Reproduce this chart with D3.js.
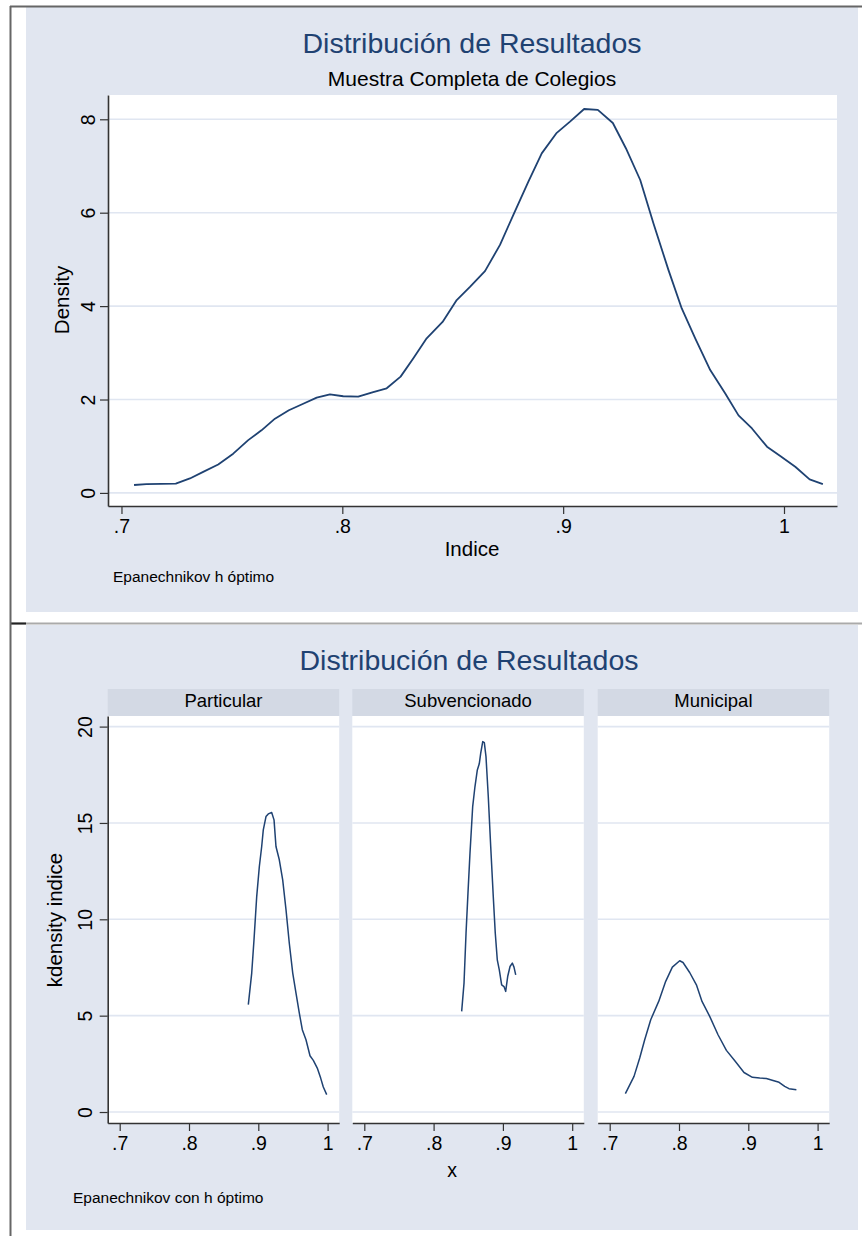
<!DOCTYPE html>
<html>
<head>
<meta charset="utf-8">
<script src="https://cdn.jsdelivr.net/npm/d3@7"></script>
<style>
  body { margin: 0; background: #fff; }
  svg { display: block; font-family: "Liberation Sans", Arial, Helvetica, sans-serif; }
</style>
</head>
<body>
<div id="chart"></div>
<script>
// kernel density, full sample
const topX = [0.7057, 0.7113, 0.7246, 0.731, 0.737, 0.7438, 0.7506, 0.7574, 0.7634, 0.7695, 0.7758, 0.7823, 0.7884, 0.7944, 0.8004, 0.8072, 0.814, 0.8201, 0.8264, 0.8321, 0.8382, 0.8454, 0.8518, 0.8578, 0.8646, 0.8714, 0.8774, 0.8842, 0.8903, 0.8971, 0.9031, 0.9095, 0.9157, 0.9225, 0.9284, 0.9349, 0.9409, 0.9477, 0.9537, 0.9598, 0.9666, 0.9734, 0.9794, 0.9855, 0.9923, 0.9983, 1.0051, 1.0116, 1.0176];
const topY = [0.17, 0.19, 0.20, 0.31, 0.45, 0.61, 0.84, 1.13, 1.34, 1.59, 1.77, 1.91, 2.04, 2.11, 2.07, 2.06, 2.16, 2.24, 2.49, 2.88, 3.31, 3.66, 4.13, 4.41, 4.75, 5.31, 5.95, 6.66, 7.27, 7.71, 7.95, 8.22, 8.20, 7.92, 7.38, 6.70, 5.77, 4.77, 3.95, 3.31, 2.63, 2.13, 1.66, 1.38, 0.99, 0.79, 0.56, 0.29, 0.19];

// by school type
const panelNames = ["Particular", "Subvencionado", "Municipal"];
const particularX = [0.8856, 0.8905, 0.8938, 0.8977, 0.9015, 0.9049, 0.9072, 0.9111, 0.9144, 0.9193, 0.9227, 0.9255, 0.9303, 0.9352, 0.94, 0.9447, 0.9497, 0.9544, 0.9592, 0.9635, 0.9688, 0.9746, 0.9794, 0.9851, 0.99, 0.9938, 0.9987];
const particularY = [5.57, 7.21, 8.94, 11.18, 12.74, 13.78, 14.64, 15.33, 15.47, 15.54, 15.16, 13.78, 13.09, 12.05, 10.49, 8.77, 7.21, 6.17, 5.13, 4.27, 3.75, 2.92, 2.68, 2.28, 1.76, 1.30, 0.90];
const subvX = [0.8405, 0.8439, 0.8468, 0.8496, 0.8525, 0.8564, 0.8597, 0.8631, 0.8659, 0.868, 0.8709, 0.8732, 0.8756, 0.8789, 0.8824, 0.8861, 0.889, 0.8919, 0.8948, 0.8982, 0.9016, 0.904, 0.9069, 0.9103, 0.9136, 0.916, 0.9185];
const subvY = [5.22, 6.69, 9.28, 11.36, 13.43, 15.85, 16.89, 17.75, 18.07, 18.62, 19.22, 19.17, 18.44, 16.37, 13.78, 11.18, 9.28, 7.90, 7.38, 6.60, 6.51, 6.26, 7.03, 7.55, 7.73, 7.52, 7.12];
const municipalX = [0.7226, 0.7351, 0.7433, 0.7505, 0.7592, 0.7707, 0.7808, 0.7904, 0.801, 0.8058, 0.8154, 0.8251, 0.8332, 0.8443, 0.8563, 0.8684, 0.8814, 0.8938, 0.9059, 0.9165, 0.9261, 0.9357, 0.9444, 0.9525, 0.9587, 0.9694];
const municipalY = [0.95, 1.85, 2.80, 3.75, 4.79, 5.74, 6.78, 7.52, 7.85, 7.76, 7.24, 6.60, 5.74, 4.96, 4.01, 3.20, 2.62, 2.05, 1.80, 1.76, 1.74, 1.64, 1.54, 1.33, 1.21, 1.16];

// ticks
const xTicks = [0.7, 0.8, 0.9, 1];
const topYTicks = [0, 2, 4, 6, 8];
const bottomYTicks = [0, 5, 10, 15, 20];

const navy = "#1f4272";
const bg = "#e1e6f0";
const stripBg = "#d3d9e4";
const gridColor = "#e0e6f1";
const axisColor = "#333";
const stataFmt = d => d === 1 ? "1" : String(d).replace(/^0/, "");

const svg = d3.select("#chart")
  .append("svg")
    .attr("width", 862)
    .attr("height", 1236)

// frame lines around the two graphs
svg.append("rect").attr("x", 26).attr("y", 7).attr("width", 832).attr("height", 605).attr("fill", bg)
svg.append("rect").attr("x", 26).attr("y", 625).attr("width", 832).attr("height", 605).attr("fill", bg)
svg.append("line").attr("x1", 10).attr("x2", 862).attr("y1", 6.5).attr("y2", 6.5).attr("stroke", "#666").attr("stroke-width", 2)
svg.append("line").attr("x1", 10).attr("x2", 862).attr("y1", 623.5).attr("y2", 623.5).attr("stroke", "#aaa").attr("stroke-width", 2)
svg.append("line").attr("x1", 10).attr("x2", 26).attr("y1", 623.5).attr("y2", 623.5).attr("stroke", "#222").attr("stroke-width", 2)
svg.append("line").attr("x1", 10.5).attr("x2", 10.5).attr("y1", 6).attr("y2", 1236).attr("stroke", "#666").attr("stroke-width", 2)

function drawPanel(g, x, y, yTicks, showY, labelShift, lineWidth, xs, ys) {
  const [x0, x1] = x.range();
  const [yb, yt] = y.range();
  g.append("rect").attr("x", x0).attr("y", yt).attr("width", x1 - x0).attr("height", yb - yt).attr("fill", "#fff")

  // grid
  g.selectAll(".grid").data(yTicks).enter()
    .append("line")
      .attr("x1", x0).attr("x2", x1)
      .attr("y1", d => y(d)).attr("y2", d => y(d))
      .attr("stroke", gridColor).attr("stroke-width", 1.6)

  // x axis
  const xa = g.append("g")
    .attr("transform", `translate(0,${yb})`)
    .call(d3.axisBottom(x).tickValues(xTicks).tickFormat(stataFmt).tickSize(8).tickPadding(5).tickSizeOuter(0))
  xa.select(".domain").attr("stroke", axisColor).attr("stroke-width", 1.6)
  xa.selectAll(".tick line").attr("stroke", axisColor).attr("stroke-width", 1.2)
  xa.selectAll("text").attr("font-size", 19.5).attr("fill", "#000").attr("font-family", null)

  if (showY) {
    const ya = g.append("g")
      .attr("transform", `translate(${x0},0)`)
      .call(d3.axisLeft(y).tickValues(yTicks).tickSize(8).tickSizeOuter(0))
    ya.select(".domain").attr("stroke", axisColor).attr("stroke-width", 1.6)
    ya.selectAll(".tick line").attr("stroke", axisColor).attr("stroke-width", 1.2)
    ya.selectAll("text")
      .attr("font-size", 19.5).attr("fill", "#000").attr("font-family", null)
      .attr("x", null).attr("dy", null)
      .attr("text-anchor", "middle")
      .attr("transform", `translate(${-labelShift},0) rotate(-90)`)
  }

  const line = d3.line()
    .x(d => x(d[0]))
    .y(d => y(d[1]))
  g.append("path")
    .datum(xs.map((v, i) => [v, ys[i]]))
    .attr("d", line)
    .attr("fill", "none")
    .attr("stroke", navy)
    .attr("stroke-width", lineWidth)
    .attr("stroke-linejoin", "round")
}

// ---- top graph
const topG = svg.append("g")
const xTop = d3.scaleLinear().domain([0.6939, 1.024]).range([108, 837])
const yTop = d3.scaleLinear().domain([-0.28, 8.52]).range([506, 95])
drawPanel(topG, xTop, yTop, topYTicks, true, 13, 1.8, topX, topY)

topG.append("text").attr("x", 472).attr("y", 53).attr("text-anchor", "middle")
  .attr("font-size", 28.5).attr("fill", navy).text("Distribución de Resultados")
topG.append("text").attr("x", 472).attr("y", 86).attr("text-anchor", "middle")
  .attr("font-size", 21).attr("fill", "#000").text("Muestra Completa de Colegios")
topG.append("text").attr("x", 472).attr("y", 556).attr("text-anchor", "middle")
  .attr("font-size", 20.5).attr("fill", "#000").text("Indice")
topG.append("text").attr("transform", "translate(69,300) rotate(-90)").attr("text-anchor", "middle")
  .attr("font-size", 20.5).attr("fill", "#000").text("Density")
topG.append("text").attr("x", 113).attr("y", 582)
  .attr("font-size", 15.5).attr("fill", "#000").text("Epanechnikov h óptimo")

// ---- bottom graph, one panel per school type
const botG = svg.append("g")
const panelLeft = [107.7, 352.3, 597.7]
const panelW = 231.5
const yBot = d3.scaleLinear().domain([-0.57, 20.55]).range([1123, 716])
const panelX = [particularX, subvX, municipalX]
const panelY = [particularY, subvY, municipalY]

panelNames.forEach((name, i) => {
  const x = d3.scaleLinear().domain([0.68268, 1.01674]).range([panelLeft[i], panelLeft[i] + panelW])
  const g = botG.append("g")
  g.append("rect").attr("x", panelLeft[i]).attr("y", 689).attr("width", panelW).attr("height", 27).attr("fill", stripBg)
  g.append("text").attr("x", panelLeft[i] + panelW / 2).attr("y", 707).attr("text-anchor", "middle")
    .attr("font-size", 18.5).attr("fill", "#000").text(name)
  drawPanel(g, x, yBot, bottomYTicks, i === 0, 16, 1.5, panelX[i], panelY[i])
})

botG.append("text").attr("x", 469).attr("y", 670).attr("text-anchor", "middle")
  .attr("font-size", 28.5).attr("fill", navy).text("Distribución de Resultados")
botG.append("text").attr("x", 452).attr("y", 1177).attr("text-anchor", "middle")
  .attr("font-size", 19.5).attr("fill", "#000").text("x")
botG.append("text").attr("transform", "translate(62,920) rotate(-90)").attr("text-anchor", "middle")
  .attr("font-size", 20.5).attr("fill", "#000").text("kdensity indice")
botG.append("text").attr("x", 73).attr("y", 1203)
  .attr("font-size", 15.5).attr("fill", "#000").text("Epanechnikov con h óptimo")
</script>
</body>
</html>
